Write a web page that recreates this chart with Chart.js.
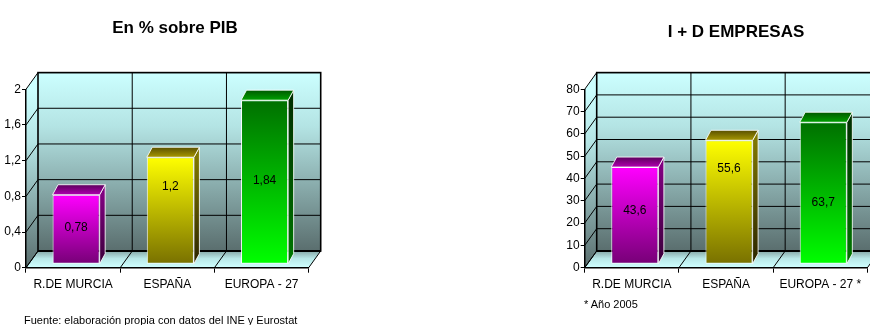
<!DOCTYPE html>
<html><head><meta charset="utf-8">
<style>
html,body{margin:0;padding:0;background:#fff;width:870px;height:325px;overflow:hidden}
canvas{position:absolute;top:0}
.t{position:absolute;white-space:nowrap;color:#000;font-family:"Liberation Sans",Arial,sans-serif}
.h{font-family:"Liberation Sans Narrow","Liberation Sans",sans-serif;font-weight:bold;font-size:17px;transform:translate(-50%,-50%)}
.n{font-size:11px;line-height:13px}
</style>
<script src="https://cdn.jsdelivr.net/npm/chart.js@4"></script>
</head><body>
<canvas id="a" width="350" height="325" style="left:0;width:350px;height:325px"></canvas>
<canvas id="b" width="350" height="325" style="left:520px;width:350px;height:325px"></canvas>
<div class="t h" style="left:175px;top:28px">En % sobre PIB</div>
<div class="t h" style="left:736px;top:32px">I + D EMPRESAS</div>
<div class="t n" style="left:24px;top:314px">Fuente: elaboración propia con datos del INE y Eurostat</div>
<div class="t n" style="left:584px;top:298px">* Año 2005</div>
<script>
const catsA = ["R.DE MURCIA", "ESPAÑA", "EUROPA - 27"];
const valsA = [0.78, 1.2, 1.84];
const labelLevelsA = [0.45, 0.91, 0.98];
const catsB = ["R.DE MURCIA", "ESPAÑA", "EUROPA - 27 *"];
const valsB = [43.6, 55.6, 63.7];
const labelLevelsB = [25.4, 44.3, 29];
const frontColors = [["#ff00ff","#760076"],["#ffff00","#787000"],["#007000","#00ff00"]];
const sideColors = [["#800080","#3a003a"],["#807800","#2a2400"],["#003000","#007800"]];
const topColors = [["#5c005c","#b000b0"],["#5a5000","#a89800"],["#005800","#00a000"]];

const WALL = {dx:12, dy:-16.7};
const BAR = {sx:3, sy:-3.4, dx:5.5, dy:-10};
const comma = v => String(v).replace(".", ",");
const FONT = '"Liberation Sans Narrow","Liberation Sans",sans-serif';

const box3d = {
  id:"box3d",
  beforeDraw(c){
    const x=c.ctx, {left:l,right:r,top:t,bottom:b}=c.chartArea, X=c.scales.x, Y=c.scales.y;
    const dx=WALL.dx, dy=WALL.dy;
    x.save();
    let g=x.createLinearGradient(0,t+dy,0,b+dy);
    g.addColorStop(0,"#ccffff");g.addColorStop(.3,"#b4e4e4");g.addColorStop(1,"#5a6e6e");
    x.fillStyle=g;x.fillRect(l+dx,t+dy,r-l,b-t);
    g=x.createLinearGradient(0,t,0,b);
    g.addColorStop(0,"#ccffff");g.addColorStop(.3,"#b4e4e4");g.addColorStop(1,"#5a6e6e");
    x.fillStyle=g;x.beginPath();x.moveTo(l,t);x.lineTo(l+dx,t+dy);x.lineTo(l+dx,b+dy);x.lineTo(l,b);x.closePath();x.fill();
    g=x.createLinearGradient(0,b+dy,0,b);
    g.addColorStop(0,"#86a8a8");g.addColorStop(.45,"#b8e8e8");g.addColorStop(1,"#d0ffff");
    x.fillStyle=g;x.beginPath();x.moveTo(l,b);x.lineTo(l+dx,b+dy);x.lineTo(r+dx,b+dy);x.lineTo(r,b);x.closePath();x.fill();
    x.strokeStyle="#000";x.lineWidth=1;
    const ln=(a,b2,c2,d)=>{x.beginPath();x.moveTo(a,b2);x.lineTo(c2,d);x.stroke();};
    Y.ticks.forEach(tk=>{
      const y=Y.getPixelForValue(tk.value);
      if(tk.value!==0) ln(l+dx,y+dy,r+dx,y+dy);
      ln(l,y,l+dx,y+dy);
    });
    const w=(r-l)/X.ticks.length;
    for(let i=0;i<=X.ticks.length;i++){
      const px=l+i*w;
      ln(px,b,px+dx,b+dy);
      if(i>0&&i<X.ticks.length) ln(px+dx,t+dy,px+dx,b+dy);
    }
    x.lineWidth=1.6;
    x.strokeRect(l+dx,t+dy,r-l,b-t);
    x.lineWidth=2.2; ln(l+dx,b+dy,r+dx,b+dy);
    x.restore();
  },
  beforeDatasetDraw(c){ c.ctx.save(); c.ctx.translate(BAR.sx,BAR.sy); },
  afterDatasetDraw(c){ c.ctx.restore(); },
  afterDatasetsDraw(c,args,opts){
    const x=c.ctx, Y=c.scales.y, dx=BAR.dx, dy=BAR.dy;
    x.save();x.translate(BAR.sx,BAR.sy);
    c.getDatasetMeta(0).data.forEach((bar,i)=>{
      const L=bar.x-bar.width/2, R=bar.x+bar.width/2, T=bar.y, B=bar.base;
      let g=x.createLinearGradient(0,T,0,B);
      g.addColorStop(0,sideColors[i][0]);g.addColorStop(1,sideColors[i][1]);
      x.fillStyle=g;x.strokeStyle="rgba(255,255,255,.85)";x.lineWidth=1;
      x.beginPath();x.moveTo(R,T);x.lineTo(R+dx,T+dy);x.lineTo(R+dx,B+dy);x.lineTo(R,B);x.closePath();x.fill();x.stroke();
      g=x.createLinearGradient(0,T+dy,0,T);
      g.addColorStop(0,topColors[i][0]);g.addColorStop(1,topColors[i][1]);
      x.fillStyle=g;
      x.beginPath();x.moveTo(L,T);x.lineTo(L+dx,T+dy);x.lineTo(R+dx,T+dy);x.lineTo(R,T);x.closePath();x.fill();x.stroke();
    });
    x.restore();
    x.save();
    x.fillStyle="#000";x.font="12px "+FONT;x.textAlign="center";x.textBaseline="middle";
    c.getDatasetMeta(0).data.forEach((bar,i)=>{
      x.fillText(comma(c.data.datasets[0].data[i]),bar.x+BAR.sx,Y.getPixelForValue(opts.levels[i]));
    });
    x.restore();
  }
};

function build(id,cats,vals,levels,yMax,step,leftPad){
  const grad=(ctx)=>{
    const c=ctx.chart;
    if(!c.chartArea||ctx.raw===undefined) return frontColors[ctx.dataIndex][0];
    const Y=c.scales.y;
    const g=c.ctx.createLinearGradient(0,Y.getPixelForValue(ctx.raw),0,Y.getPixelForValue(0));
    g.addColorStop(0,frontColors[ctx.dataIndex][0]);g.addColorStop(1,frontColors[ctx.dataIndex][1]);
    return g;
  };
  return new Chart(document.getElementById(id),{
    type:"bar",
    data:{labels:cats,datasets:[{data:vals,backgroundColor:grad,borderColor:"rgba(255,255,255,.9)",borderWidth:1,borderSkipped:false,barPercentage:.5,categoryPercentage:1,clip:false}]},
    plugins:[box3d],
    options:{
      responsive:false,animation:false,
      layout:{padding:{left:leftPad,right:350-leftPad-26-282.7,top:89.3,bottom:0}},
      plugins:{legend:{display:false},tooltip:{enabled:false},title:{display:false},box3d:{levels}},
      scales:{
        x:{afterFit:s=>{s.height=57.3;},
           grid:{display:true,drawOnChartArea:false,drawTicks:true,tickLength:5,color:"#000",offset:true},
           border:{display:true,color:"#000",width:1.5},
           ticks:{color:"#000",font:{family:FONT,size:12},maxRotation:0,autoSkip:false,padding:5}},
        y:{min:0,max:yMax,afterFit:s=>{s.width=26;},
           grid:{display:true,drawOnChartArea:false,drawTicks:true,tickLength:4,color:"#000"},
           border:{display:true,color:"#000",width:1.5},
           ticks:{color:"#000",font:{family:FONT,size:12},stepSize:step,padding:1,callback:v=>comma(+v.toFixed(1))}}
      }
    }
  });
}
build("a",catsA,valsA,labelLevelsA,2,0.4,0);
build("b",catsB,valsB,labelLevelsB,80,10,64.7-26+0);
</script>
</body></html>
